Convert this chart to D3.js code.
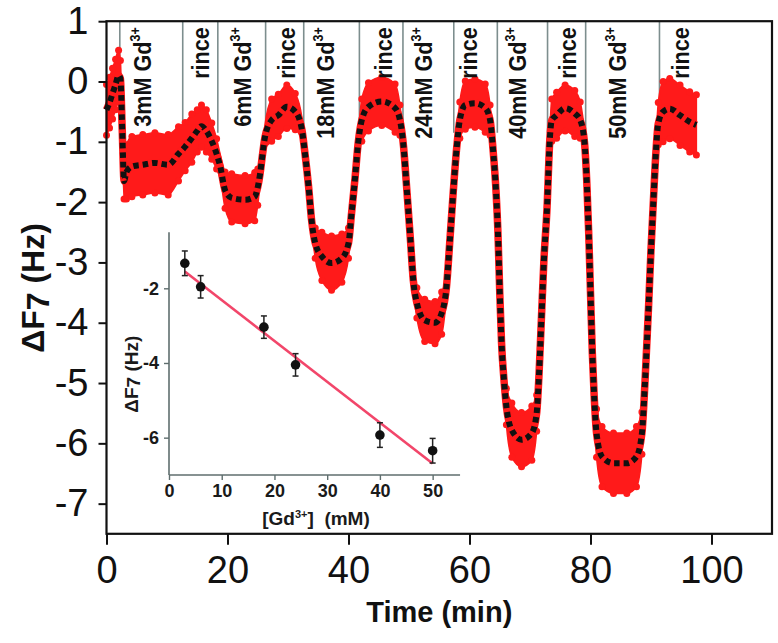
<!DOCTYPE html>
<html>
<head>
<meta charset="utf-8">
<style>
  body { margin: 0; background: #fff; }
  svg { display: block; font-family: "Liberation Sans", Arial, sans-serif; }
</style>
</head>
<body>
<svg id="chart" width="778" height="643"></svg>
<script src="https://cdn.jsdelivr.net/npm/d3@7/dist/d3.min.js"></script>
<script>
  // main trace: time (min), dF7 (Hz), half-width of the red noise band
  const time = [0, 0.5, 1.0, 1.5, 2.0, 2.3, 2.6, 2.9, 3.3, 4.2, 6.0, 8.0, 10.2, 11.9, 13.0, 14.1, 15.0, 15.7,
    16.5, 17.4, 18.2, 18.8, 19.6, 20.7, 22.9, 24.5, 25.0, 25.4, 25.8, 26.2, 27.3, 28.4, 29.8, 31.2,
    32.3, 32.8, 33.4, 33.9, 34.5, 35.6, 37.2, 38.9, 40.0, 40.5, 41.1, 41.6, 42.2, 43.3, 45.5, 47.7,
    48.5, 49.1, 49.6, 50.2, 50.7, 51.3, 52.6, 54.3, 55.4, 56.2, 56.8, 57.3, 57.9, 58.4, 59.3, 60.9,
    62.6, 63.4, 63.9, 64.4, 64.7, 65.0, 65.3, 65.7, 66.1, 67.0, 68.6, 70.3, 71.1, 71.5, 71.9, 72.3,
    72.8, 73.3, 73.6, 74.4, 75.8, 77.4, 78.3, 79.0, 79.4, 79.7, 80.0, 80.3, 80.6, 81.0, 81.9, 83.8,
    86.0, 87.6, 88.5, 89.0, 89.6, 90.0, 90.4, 90.8, 91.2, 92.0, 93.1, 94.8, 96.4, 97.5];
  const dF = [-0.47, -0.35, -0.2, -0.05, 0.1, 0.05, -0.8, -1.65, -1.5, -1.41, -1.38, -1.35, -1.38, -1.2, -1.08, -0.94, -0.82, -0.74,
    -0.82, -0.99, -1.2, -1.41, -1.8, -1.93, -1.96, -1.91, -1.75, -1.52, -1.2, -0.92, -0.64, -0.56, -0.42, -0.5,
    -0.8, -1.19, -1.74, -2.3, -2.68, -2.9, -3.01, -2.93, -2.68, -2.19, -1.58, -1.02, -0.64, -0.42, -0.33, -0.44,
    -0.64, -1.08, -1.74, -2.57, -3.29, -3.67, -3.96, -4.0, -3.84, -3.4, -2.57, -1.85, -1.08, -0.64, -0.39, -0.36,
    -0.44, -0.64, -1.14, -1.85, -2.5, -3.5, -4.34, -4.95, -5.39, -5.78, -5.94, -5.83, -5.5, -4.84, -3.9, -2.96,
    -2.13, -0.92, -0.64, -0.56, -0.44, -0.53, -0.64, -1.0, -1.7, -2.5, -3.5, -4.5, -5.2, -5.83, -6.22, -6.33,
    -6.33, -6.22, -5.83, -5.0, -3.73, -2.79, -1.97, -1.19, -0.7, -0.5, -0.45, -0.56, -0.67, -0.72];
  const spread = [0.42, 0.42, 0.42, 0.42, 0.42, 0.3, 0.12, 0.3, 0.45, 0.5, 0.5, 0.5, 0.5, 0.45, 0.4, 0.4, 0.35, 0.35,
    0.35, 0.3, 0.25, 0.2, 0.3, 0.4, 0.4, 0.4, 0.3, 0.15, 0.12, 0.2, 0.35, 0.35, 0.36, 0.3,
    0.2, 0.12, 0.1, 0.1, 0.25, 0.4, 0.45, 0.4, 0.25, 0.1, 0.1, 0.15, 0.35, 0.4, 0.4, 0.4,
    0.25, 0.1, 0.1, 0.1, 0.1, 0.25, 0.35, 0.35, 0.35, 0.15, 0.1, 0.1, 0.1, 0.3, 0.4, 0.4,
    0.4, 0.25, 0.1, 0.1, 0.1, 0.1, 0.1, 0.12, 0.3, 0.45, 0.45, 0.45, 0.3, 0.12, 0.1, 0.1,
    0.1, 0.15, 0.35, 0.38, 0.38, 0.38, 0.3, 0.12, 0.1, 0.1, 0.1, 0.1, 0.2, 0.4, 0.5, 0.5,
    0.5, 0.5, 0.35, 0.15, 0.1, 0.1, 0.1, 0.15, 0.35, 0.5, 0.5, 0.5, 0.5, 0.5];

  // injection / rinse markers
  const markTimes = [2.2, 12.6, 18.4, 26.3, 32.6, 41.8, 49.0, 57.4, 64.6, 72.9, 79.2, 91.4];
  const labelTimes = [6.0, 15.5, 22.4, 29.8, 36.1, 45.7, 52.3, 59.8, 67.9, 76.1, 84.5, 94.8];
  const markLabels = ["3mM", "rince", "6mM", "rince", "18mM", "rince", "24mM", "rince", "40mM", "rince", "50mM", "rince"];

  // inset: response vs concentration
  const conc = [3, 6, 18, 24, 40, 50];
  const concDF = [-1.33, -1.96, -3.04, -4.05, -5.93, -6.35];
  const concErr = [0.33, 0.3, 0.3, 0.3, 0.33, 0.33];
  const fitX = [3, 50];
  const fitY = [-1.55, -6.69];

  const xTicks = [0, 20, 40, 60, 80, 100];
  const yTicks = [1, 0, -1, -2, -3, -4, -5, -6, -7];
  const insetXTicks = [0, 10, 20, 30, 40, 50];
  const insetYTicks = [-2, -4, -6];

  const svg = d3.select('#chart');

  const x = d3.scaleLinear().domain([0, 110]).range([106.5, 772]);
  const y = d3.scaleLinear().domain([-7.5, 1]).range([533.8, 21.2]);

  const pts = time.map((t, i) => ({ t: t, v: dF[i], s: spread[i] }));

  // gray marker lines
  svg.append('g').selectAll('line')
      .data(markTimes)
      .enter()
      .append('line')
      .attr('x1', d => x(d)).attr('x2', d => x(d))
      .attr('y1', y(1)).attr('y2', y(-0.85))
      .attr('stroke', '#7d8e8e')
      .attr('stroke-width', 1.6);

  // red noisy band
  const band = d3.area()
      .curve(d3.curveMonotoneX)
      .x(d => x(d.t))
      .y0(d => y(d.v - d.s))
      .y1(d => y(d.v + d.s));

  const trace = d3.line()
      .curve(d3.curveMonotoneX)
      .x(d => x(d.t))
      .y(d => y(d.v));

  svg.append('path')
      .datum(pts)
      .attr('d', band)
      .attr('fill', '#ff1a1a')
      .attr('stroke', '#ff1a1a')
      .attr('stroke-width', 1.5);

  svg.append('path')
      .datum(pts)
      .attr('d', trace)
      .attr('fill', 'none')
      .attr('stroke', '#ff1a1a')
      .attr('stroke-width', 7.5);

  const edges = svg.append('g').attr('fill', '#ff1a1a');
  edges.selectAll('circle.up')
      .data(pts.filter(d => d.s > 0.2)).enter().append('circle')
      .attr('cx', d => x(d.t)).attr('cy', d => y(d.v + d.s)).attr('r', 3.5);
  edges.selectAll('circle.down')
      .data(pts.filter(d => d.s > 0.2)).enter().append('circle')
      .attr('cx', d => x(d.t)).attr('cy', d => y(d.v - d.s)).attr('r', 3.5);

  // black smoothed points
  svg.append('path')
      .datum(pts)
      .attr('d', trace)
      .attr('fill', 'none')
      .attr('stroke', '#111')
      .attr('stroke-width', 6)
      .attr('stroke-dasharray', '5.5,4');

  // marker labels (rotated)
  const lab = svg.append('g')
      .attr('font-size', 24)
      .attr('font-weight', 'bold')
      .attr('fill', '#111');
  markLabels.forEach((name, i) => {
    const cx = x(labelTimes[i]);
    const ty = y(0.9);
    const t = lab.append('text')
        .attr('transform', `translate(${cx},${ty}) rotate(-90) scale(0.9,1)`)
        .attr('text-anchor', 'end')
        .attr('dy', '0.36em');
    if (name === 'rince') {
      t.text('rince');
    } else {
      t.append('tspan').text(name + ' Gd');
      t.append('tspan').attr('font-size', 14).attr('dy', -11).text('3+');
    }
  });

  // main axes
  const gx = svg.append('g').attr('transform', `translate(0,${y(-7.5)})`);
  gx.call(d3.axisBottom(x).tickValues([10, 30, 50, 70, 90, 110]).tickSize(7).tickFormat(''));
  gx.call(d3.axisBottom(x).tickValues(xTicks).tickSize(11).tickPadding(11).tickFormat(d3.format('d')));

  const gy = svg.append('g').attr('transform', `translate(${x(0)},0)`);
  gy.call(d3.axisLeft(y).tickValues([0.5, -0.5, -1.5, -2.5, -3.5, -4.5, -5.5, -6.5]).tickSize(5).tickFormat(''));
  gy.call(d3.axisLeft(y).tickValues(yTicks).tickSize(8).tickPadding(10).tickFormat(d => d < 0 ? '-' + Math.abs(d) : d));

  [gx, gy].forEach(g => {
    g.selectAll('.domain').remove();
    g.selectAll('line').attr('stroke', '#111').attr('stroke-width', 2);
    g.selectAll('text').attr('font-size', 38).attr('fill', '#111')
        .attr('font-family', '"Liberation Sans", Arial, sans-serif');
  });

  // frame
  svg.append('rect')
      .attr('x', x(0)).attr('y', y(1))
      .attr('width', x(110) - x(0)).attr('height', y(-7.5) - y(1))
      .attr('fill', 'none')
      .attr('stroke', '#111')
      .attr('stroke-width', 2.2);

  // axis titles
  svg.append('text')
      .attr('x', (x(0) + x(110)) / 2).attr('y', 622)
      .attr('text-anchor', 'middle')
      .attr('font-size', 29).attr('font-weight', 'bold').attr('fill', '#111')
      .text('Time (min)');

  const yt = svg.append('text')
      .attr('transform', 'translate(44,288) rotate(-90)')
      .attr('text-anchor', 'middle')
      .attr('font-size', 32).attr('font-weight', 'bold').attr('fill', '#111');
  yt.append('tspan').text('ΔF');
  yt.append('tspan').attr('dy', 5).text('7');
  yt.append('tspan').attr('dy', -5).text(' (Hz)');

  // inset
  const ix = d3.scaleLinear().domain([0, 55]).range([169, 459]);
  const iy = d3.scaleLinear().domain([-7, -0.5]).range([475, 232.3]);
  const inset = svg.append('g');

  const igx = inset.append('g').attr('transform', `translate(0,${iy(-7)})`);
  igx.call(d3.axisBottom(ix).tickValues([5, 15, 25, 35, 45, 55]).tickSize(3).tickFormat(''));
  igx.call(d3.axisBottom(ix).tickValues(insetXTicks).tickSize(5).tickPadding(4).tickFormat(d3.format('d')));
  const igy = inset.append('g').attr('transform', `translate(${ix(0)},0)`);
  igy.call(d3.axisLeft(iy).tickValues([-1, -3, -5, -7]).tickSize(3).tickFormat(''));
  igy.call(d3.axisLeft(iy).tickValues(insetYTicks).tickSize(5).tickPadding(5).tickFormat(d => '-' + Math.abs(d)));
  [igx, igy].forEach(g => {
    g.selectAll('.domain').attr('stroke', '#5f6e6e').attr('stroke-width', 1.6);
    g.selectAll('line').attr('stroke', '#5f6e6e').attr('stroke-width', 1.4);
    g.selectAll('text').attr('font-size', 18).attr('font-weight', 'bold').attr('fill', '#1a1a1a')
        .attr('font-family', '"Liberation Sans", Arial, sans-serif');
  });
  igy.select('.domain').attr('d', `M-0,${iy(-0.5)}V${iy(-7)}`);
  igx.select('.domain').attr('d', `M${ix(0)},0H${ix(55.2)}`);

  // fit line
  inset.append('line')
      .attr('x1', ix(fitX[0])).attr('y1', iy(fitY[0]))
      .attr('x2', ix(fitX[1])).attr('y2', iy(fitY[1]))
      .attr('stroke', '#f2466a')
      .attr('stroke-width', 2.6);

  // error bars and points
  const ig = inset.append('g').selectAll('g')
      .data(conc.map((c, i) => ({ c: c, v: concDF[i], e: concErr[i] })))
      .enter().append('g');
  ig.append('line')
      .attr('x1', d => ix(d.c)).attr('x2', d => ix(d.c))
      .attr('y1', d => iy(d.v - d.e)).attr('y2', d => iy(d.v + d.e))
      .attr('stroke', '#222').attr('stroke-width', 1.5);
  ig.append('line')
      .attr('x1', d => ix(d.c) - 3).attr('x2', d => ix(d.c) + 3)
      .attr('y1', d => iy(d.v + d.e)).attr('y2', d => iy(d.v + d.e))
      .attr('stroke', '#222').attr('stroke-width', 1.5);
  ig.append('line')
      .attr('x1', d => ix(d.c) - 3).attr('x2', d => ix(d.c) + 3)
      .attr('y1', d => iy(d.v - d.e)).attr('y2', d => iy(d.v - d.e))
      .attr('stroke', '#222').attr('stroke-width', 1.5);
  ig.append('circle')
      .attr('cx', d => ix(d.c)).attr('cy', d => iy(d.v))
      .attr('r', 4.8)
      .attr('fill', '#111');

  // inset titles
  const ixt = inset.append('text')
      .attr('x', (ix(0) + ix(55)) / 2 + 2).attr('y', 525)
      .attr('text-anchor', 'middle')
      .attr('font-size', 19).attr('font-weight', 'bold').attr('fill', '#1a1a1a');
  ixt.append('tspan').text('[Gd');
  ixt.append('tspan').attr('font-size', 11).attr('dy', -7).text('3+');
  ixt.append('tspan').attr('dy', 7).text(']\u00a0\u00a0(mM)');

  const iyt = inset.append('text')
      .attr('transform', `translate(138,${iy(-4.3)}) rotate(-90)`)
      .attr('text-anchor', 'middle')
      .attr('font-size', 19).attr('font-weight', 'bold').attr('fill', '#1a1a1a');
  iyt.append('tspan').text('ΔF');
  iyt.append('tspan').attr('dy', 2).text('7');
  iyt.append('tspan').attr('dy', -2).text(' (Hz)');
</script>
</body>
</html>
